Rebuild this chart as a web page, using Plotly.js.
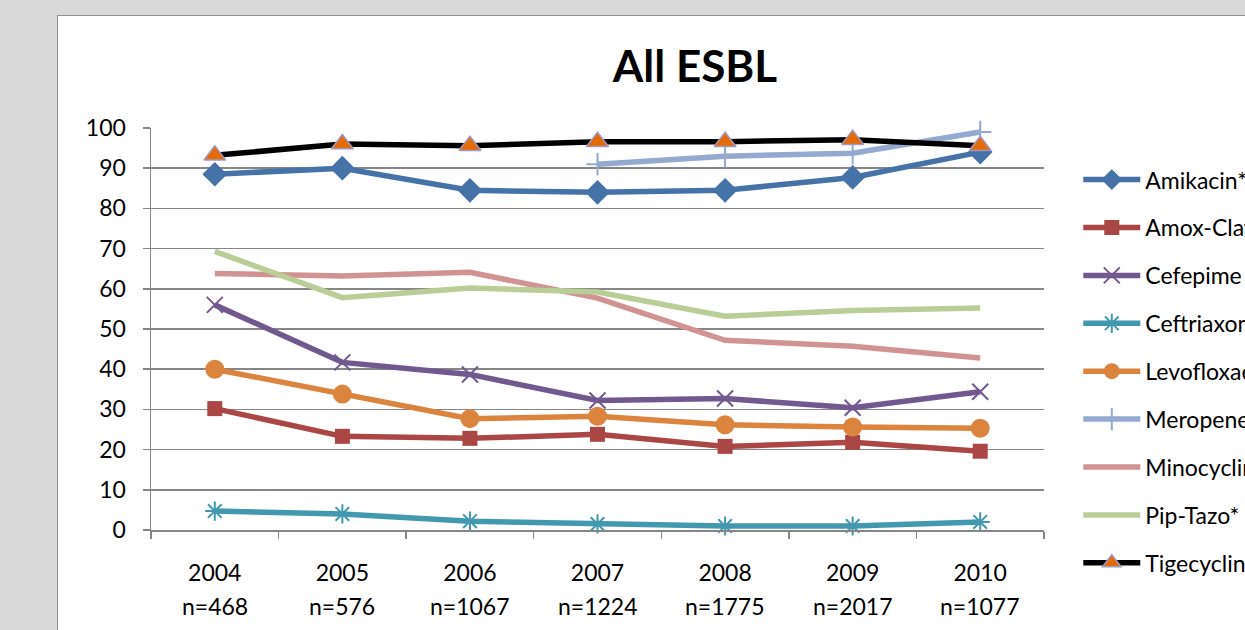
<!DOCTYPE html>
<html>
<head>
<meta charset="utf-8">
<script src="https://cdn.plot.ly/plotly-3.0.1.min.js"></script>
<style>
  html, body { margin: 0; padding: 0; width: 1245px; height: 630px; overflow: hidden; background: #d9d9d9; }
  #chart { position: absolute; left: 57px; top: 15px; width: 1400px; height: 700px; background: #ffffff; border: 1px solid #8e8e8e; }
</style>
</head>
<body>
<div id="chart"></div>
<script>
// ---- data ----
const years = ["2004", "2005", "2006", "2007", "2008", "2009", "2010"];
const sampleSizes = ["n=468", "n=576", "n=1067", "n=1224", "n=1775", "n=2017", "n=1077"];

const seriesNames = ["Amikacin*", "Amox-Clav", "Cefepime", "Ceftriaxone", "Levofloxacin", "Meropenem", "Minocycline", "Pip-Tazo*", "Tigecycline"];

const amikacin     = [88.5, 90.0, 84.5, 84.0, 84.5, 87.7, 94.0];
const amoxClav     = [30.2, 23.3, 22.8, 23.8, 20.8, 21.8, 19.6];
const cefepime     = [56.0, 41.7, 38.7, 32.2, 32.7, 30.4, 34.4];
const ceftriaxone  = [4.7, 4.0, 2.2, 1.5, 1.0, 1.0, 2.0];
const levofloxacin = [40.0, 33.8, 27.7, 28.3, 26.2, 25.6, 25.3];
const meropenem    = [null, null, null, 91.0, 93.0, 93.7, 99.0];
const minocycline  = [63.8, 63.2, 64.1, 57.7, 47.2, 45.7, 42.8];
const pipTazo      = [69.3, 57.8, 60.2, 59.2, 53.2, 54.6, 55.2];
const tigecycline  = [93.2, 96.0, 95.6, 96.6, 96.6, 97.1, 95.6];

const seriesValues = [amikacin, amoxClav, cefepime, ceftriaxone, levofloxacin, meropenem, minocycline, pipTazo, tigecycline];

// ---- styles ----
const FONT = "Lato, 'Open Sans', sans-serif";
const styles = [
  {color: "#4572a7", marker: {symbol: "diamond", size: 19, color: "#4572a7"}},
  {color: "#aa4643", marker: {symbol: "square", size: 15, color: "#aa4643"}},
  {color: "#71588f", marker: {symbol: "x-thin-open", size: 16, color: "#71588f", line: {width: 2, color: "#71588f"}}},
  {color: "#4198af", marker: {symbol: "asterisk-open", size: 16, color: "#4198af", line: {width: 2, color: "#4198af"}}},
  {color: "#db843d", marker: {symbol: "circle", size: 19, color: "#db843d"}},
  {color: "#93a9cf", marker: {symbol: "cross-thin-open", size: 16, color: "#93a9cf", line: {width: 2, color: "#93a9cf"}}},
  {color: "#d19392", marker: null},
  {color: "#b9cd96", marker: null},
  {color: "#000000", marker: {symbol: "triangle-up", size: 19, color: "#e36c09", line: {width: 1.5, color: "#a297c4"}}}
];

const traces = seriesNames.map((name, i) => {
  const st = styles[i];
  const t = {
    type: "scatter",
    x: years,
    y: seriesValues[i],
    name: name,
    legendgroup: "g" + i,
    mode: st.marker ? "lines+markers" : "lines",
    line: {color: st.color, width: 5.5},
    cliponaxis: false,
    connectgaps: false
  };
  if (st.marker) t.marker = st.marker;
  return t;
});

// second line of the category labels (sample sizes); category axis uses index positions
const nAnnotations = sampleSizes.map((s, i) => ({
  x: i, xref: "x",
  y: -0.19, yref: "paper",
  yanchor: "middle", xanchor: "center",
  text: s, showarrow: false,
  font: {family: FONT, size: 23, color: "#000000"}
}));

const layout = {
  width: 1400,
  height: 700,
  margin: {l: 93, r: 414, t: 112, b: 186},
  paper_bgcolor: "#ffffff",
  plot_bgcolor: "#ffffff",
  font: {family: FONT, size: 23, color: "#000000"},
  title: {
    text: "All ESBL",
    font: {family: FONT, size: 44, color: "#000000", weight: "bold"},
    xref: "container", x: 0.455, xanchor: "center",
    yref: "container", y: 0.928, yanchor: "middle"
  },
  showlegend: true,
  legend: {
    x: 1.0384, xanchor: "left",
    y: 0.925, yanchor: "top",
    font: {family: FONT, size: 23, color: "#000000"},
    itemwidth: 57,
    tracegroupgap: 15,
    maxheight: 650,
    bgcolor: "rgba(0,0,0,0)"
  },
  annotations: nAnnotations,
  xaxis: {
    type: "category",
    range: [-0.5, 6.5],
    tickvals: years,
    ticktext: years,
    tickson: "boundaries",
    ticks: "outside",
    ticklen: 7,
    tickwidth: 1.5,
    tickcolor: "#868686",
    showline: true,
    linecolor: "#868686",
    linewidth: 1.5,
    showgrid: false,
    zeroline: false,
    ticklabelstandoff: 22,
    tickfont: {family: FONT, size: 23, color: "#000000"}
  },
  yaxis: {
    range: [0, 100],
    dtick: 10,
    tick0: 0,
    ticks: "outside",
    ticklen: 7,
    tickwidth: 1.5,
    tickcolor: "#868686",
    showline: true,
    linecolor: "#868686",
    linewidth: 1.5,
    showgrid: true,
    gridcolor: "#868686",
    gridwidth: 1.5,
    zeroline: false,
    ticklabelstandoff: 12,
    tickfont: {family: FONT, size: 23, color: "#000000"}
  }
};

Plotly.newPlot("chart", traces, layout, {displayModeBar: false, staticPlot: true});
</script>
</body>
</html>
